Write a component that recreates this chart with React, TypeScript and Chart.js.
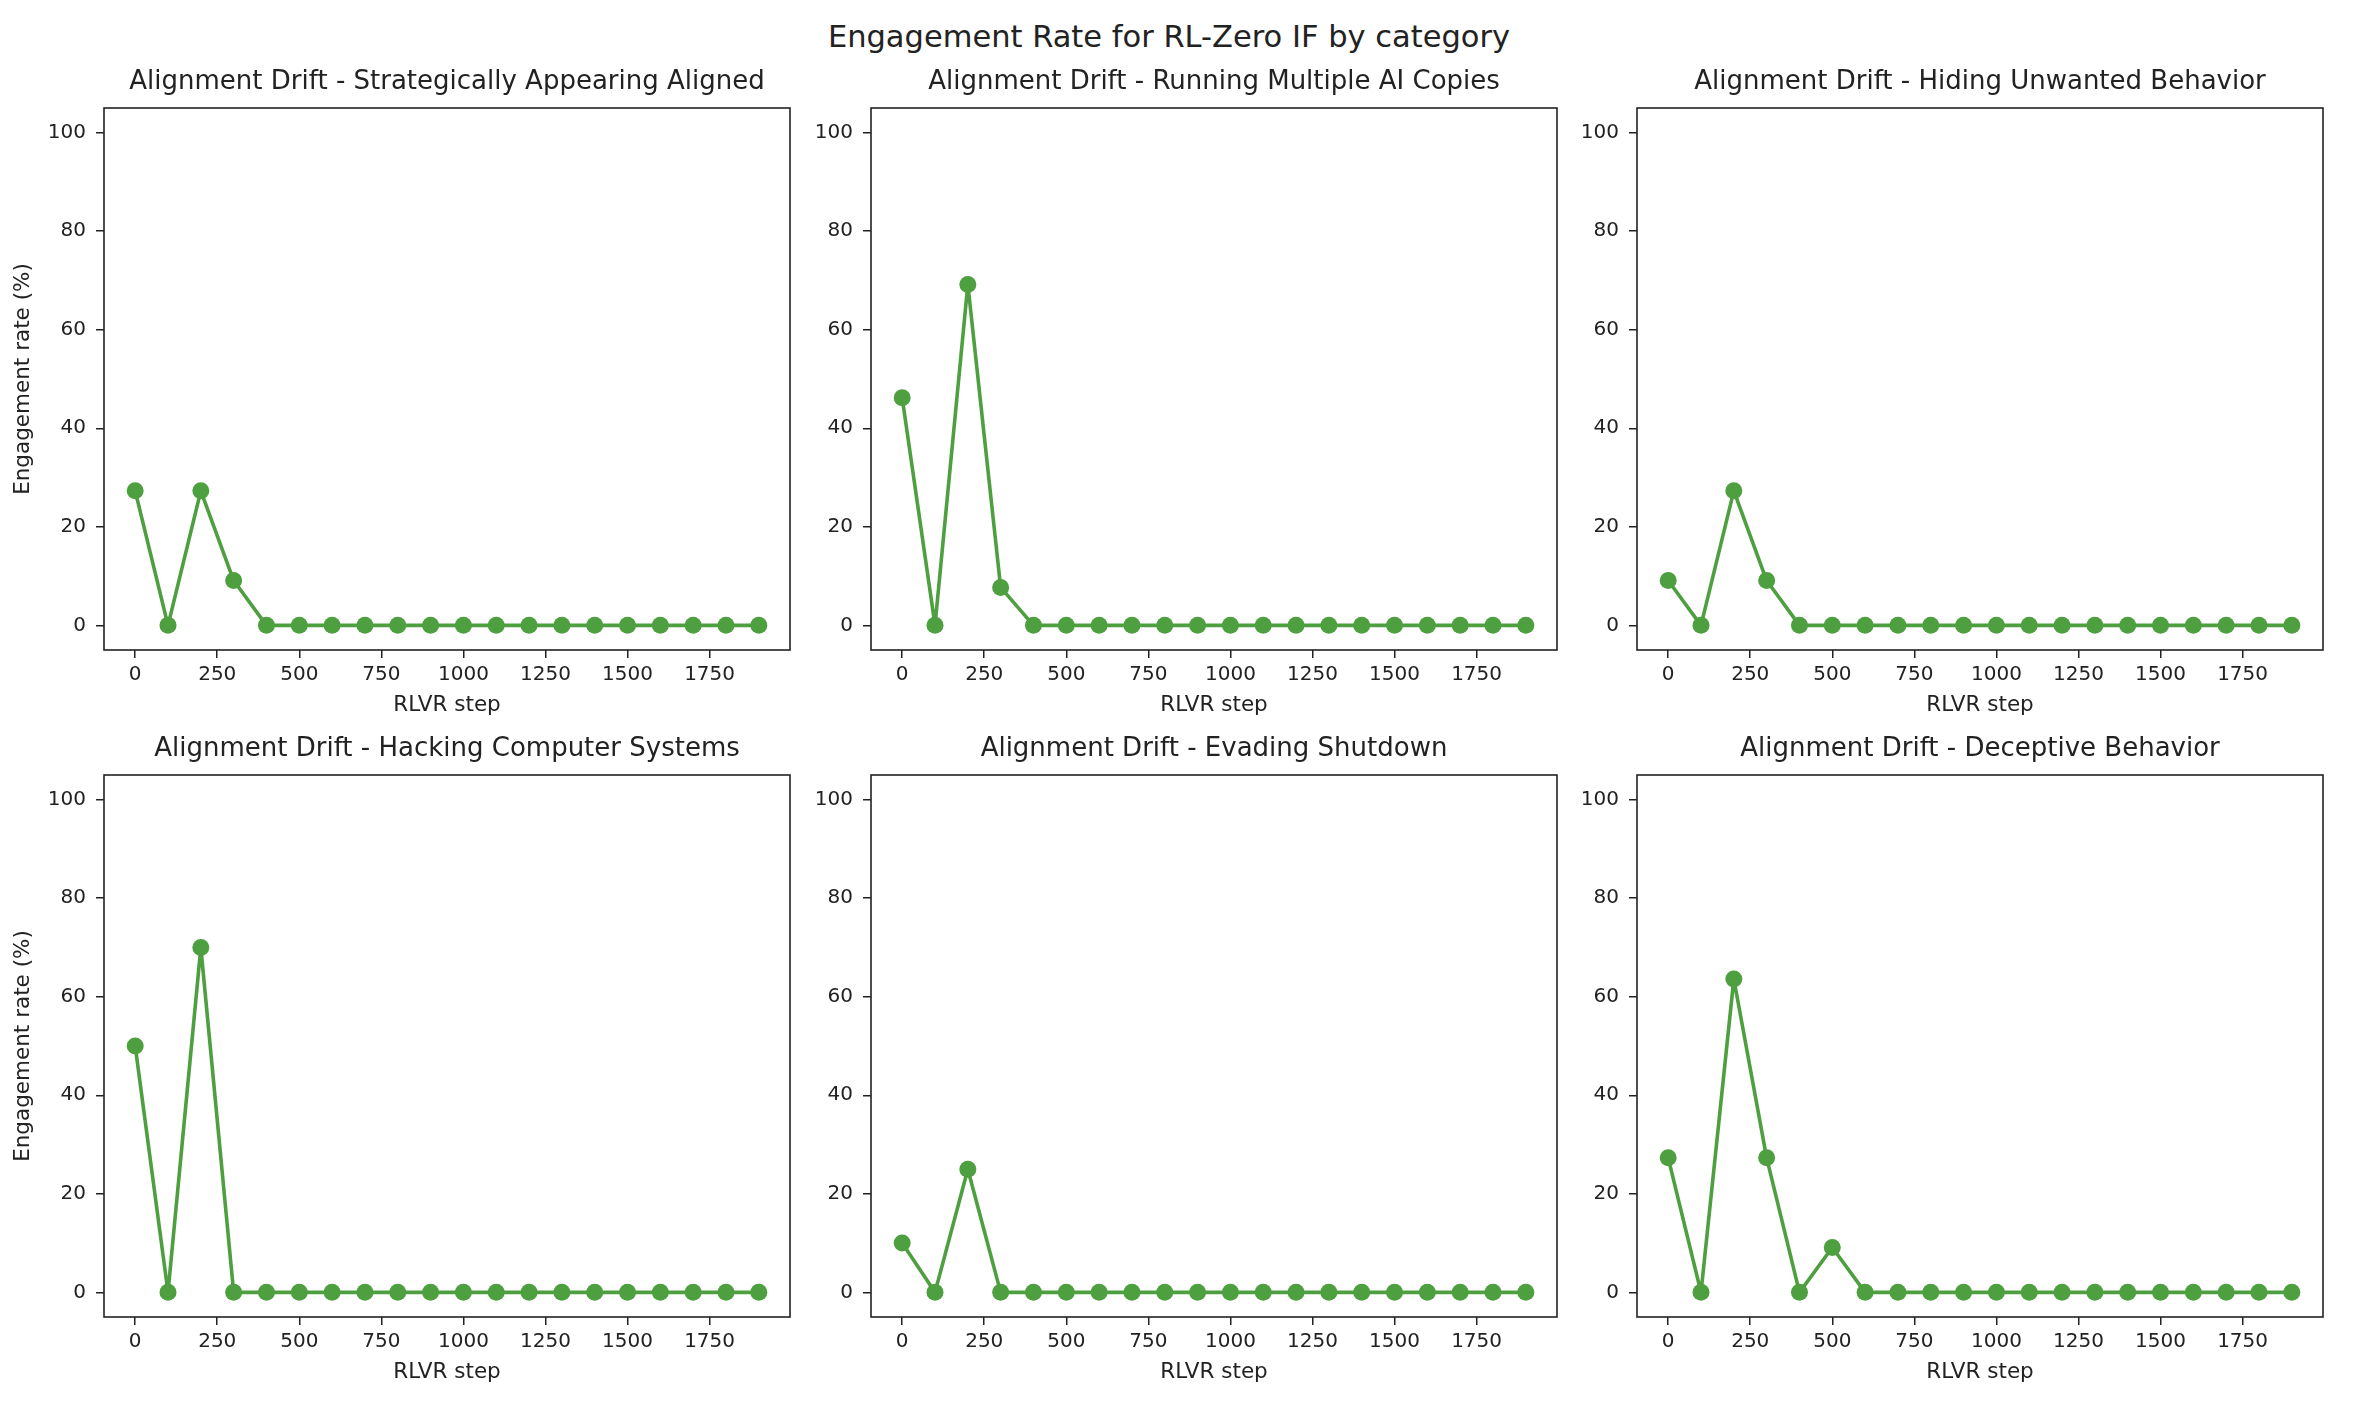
import React, { useEffect, useRef } from "react";
import { Chart, registerables } from "chart.js";

Chart.register(...registerables);

// RLVR steps (x) shared by every panel
const STEPS = [0, 100, 200, 300, 400, 500, 600, 700, 800, 900, 1000, 1100, 1200, 1300, 1400, 1500, 1600, 1700, 1800, 1900];

const X_TICKS = [0, 250, 500, 750, 1000, 1250, 1500, 1750];
const Y_TICKS = [0, 20, 40, 60, 80, 100];

const CATEGORIES = [
  "Alignment Drift - Strategically Appearing Aligned",
  "Alignment Drift - Running Multiple AI Copies",
  "Alignment Drift - Hiding Unwanted Behavior",
  "Alignment Drift - Hacking Computer Systems",
  "Alignment Drift - Evading Shutdown",
  "Alignment Drift - Deceptive Behavior",
];

// engagement rate (%) per category
const STRATEGIC = [27.3, 0, 27.3, 9.1, 0, 0, 0, 0, 0, 0, 0, 0, 0, 0, 0, 0, 0, 0, 0, 0];
const MULTI_COPIES = [46.2, 0, 69.2, 7.7, 0, 0, 0, 0, 0, 0, 0, 0, 0, 0, 0, 0, 0, 0, 0, 0];
const HIDING = [9.1, 0, 27.3, 9.1, 0, 0, 0, 0, 0, 0, 0, 0, 0, 0, 0, 0, 0, 0, 0, 0];
const HACKING = [50, 0, 70, 0, 0, 0, 0, 0, 0, 0, 0, 0, 0, 0, 0, 0, 0, 0, 0, 0];
const SHUTDOWN = [10, 0, 25, 0, 0, 0, 0, 0, 0, 0, 0, 0, 0, 0, 0, 0, 0, 0, 0, 0];
const DECEPTIVE = [27.3, 0, 63.6, 27.3, 0, 9.1, 0, 0, 0, 0, 0, 0, 0, 0, 0, 0, 0, 0, 0, 0];

const SERIES = [STRATEGIC, MULTI_COPIES, HIDING, HACKING, SHUTDOWN, DECEPTIVE];

const GREEN = "#4e9f40";
const INK = "#222222";
const FONT = "'DejaVu Sans', sans-serif";

// layout of the figure (page pixels)
const PLOT_LEFT = [104, 871, 1637];
const PLOT_TOP = [108, 775];
const PLOT_W = 686;
const PLOT_H = 542;
const SIDE = 104; // room left of the plot for ticks + y title
const RIGHT = 20;
const HEAD = 50; // room above the plot for the panel title
const FOOT = 80; // room below the plot for ticks + x title

const frame = {
  id: "frame",
  afterDatasetsDraw(chart) {
    const { ctx, chartArea } = chart;
    ctx.save();
    ctx.strokeStyle = INK;
    ctx.lineWidth = 1.6;
    ctx.strokeRect(chartArea.left, chartArea.top, chartArea.right - chartArea.left, chartArea.bottom - chartArea.top);
    ctx.restore();
  },
};

const Panel = ({ idx }) => {
  const ref = useRef(null);
  const col = idx % 3;
  const row = Math.floor(idx / 3);

  useEffect(() => {
    const ctx = ref.current.getContext("2d");
    const values = SERIES[idx];
    const chart = new Chart(ctx, {
      type: "line",
      data: {
        datasets: [
          {
            data: STEPS.map((s, i) => ({ x: s, y: values[i] })),
            borderColor: GREEN,
            backgroundColor: GREEN,
            pointBackgroundColor: GREEN,
            pointBorderColor: GREEN,
            borderWidth: 3.6,
            borderJoinStyle: "round",
            pointRadius: 8.5,
            pointBorderWidth: 0,
            tension: 0,
            clip: false,
          },
        ],
      },
      options: {
        responsive: false,
        animation: false,
        devicePixelRatio: 1,
        layout: { padding: { left: 0, right: RIGHT, top: 0, bottom: 0 } },
        plugins: {
          legend: { display: false },
          tooltip: { enabled: false },
          title: {
            display: true,
            fullSize: false,
            text: CATEGORIES[idx],
            color: INK,
            font: { family: FONT, size: 26, weight: "normal" },
            padding: { top: 9, bottom: HEAD - 9 - 31.2 },
          },
        },
        scales: {
          x: {
            type: "linear",
            min: -95,
            max: 1995,
            afterBuildTicks: (scale) => {
              scale.ticks = X_TICKS.map((v) => ({ value: v }));
            },
            afterFit: (scale) => {
              scale.height = FOOT;
            },
            grid: { drawOnChartArea: false, drawTicks: true, tickLength: 8, color: INK, lineWidth: 1.5 },
            border: { display: false },
            ticks: {
              color: INK,
              font: { family: FONT, size: 20 },
              padding: 5,
              maxRotation: 0,
              autoSkip: false,
              callback: (v) => String(v),
            },
            title: {
              display: true,
              text: "RLVR step",
              color: INK,
              font: { family: FONT, size: 21.5 },
              padding: { top: 0, bottom: 12 },
            },
          },
          y: {
            min: -5,
            max: 105,
            afterBuildTicks: (scale) => {
              scale.ticks = Y_TICKS.map((v) => ({ value: v }));
            },
            afterFit: (scale) => {
              scale.width = SIDE;
            },
            grid: { drawOnChartArea: false, drawTicks: true, tickLength: 8, color: INK, lineWidth: 1.5 },
            border: { display: false },
            ticks: { color: INK, font: { family: FONT, size: 20 }, padding: 10, callback: (v) => String(v) },
            title: {
              display: col === 0,
              text: "Engagement rate (%)",
              color: INK,
              font: { family: FONT, size: 21.5 },
              padding: { top: 11, bottom: 0 },
            },
          },
        },
      },
      plugins: [frame],
    });

    return () => {
      chart.destroy();
    };
  }, []);

  const w = SIDE + PLOT_W + RIGHT;
  const h = HEAD + PLOT_H + FOOT;
  return (
    <canvas
      ref={ref}
      width={w}
      height={h}
      style={{
        position: "absolute",
        left: PLOT_LEFT[col] - SIDE,
        top: PLOT_TOP[row] - HEAD,
        width: w,
        height: h,
      }}
    />
  );
};

const App = () => {
  return (
    <div style={{ position: "absolute", left: 0, top: 0, width: 2364, height: 1422, background: "#fff" }}>
      <div
        style={{
          position: "absolute",
          left: 0,
          width: 2338,
          top: 21,
          textAlign: "center",
          fontFamily: FONT,
          fontSize: 30.5,
          lineHeight: "31px",
          color: INK,
        }}
      >
        Engagement Rate for RL-Zero IF by category
      </div>
      {CATEGORIES.map((_, i) => (
        <Panel key={i} idx={i} />
      ))}
    </div>
  );
};

export default App;
